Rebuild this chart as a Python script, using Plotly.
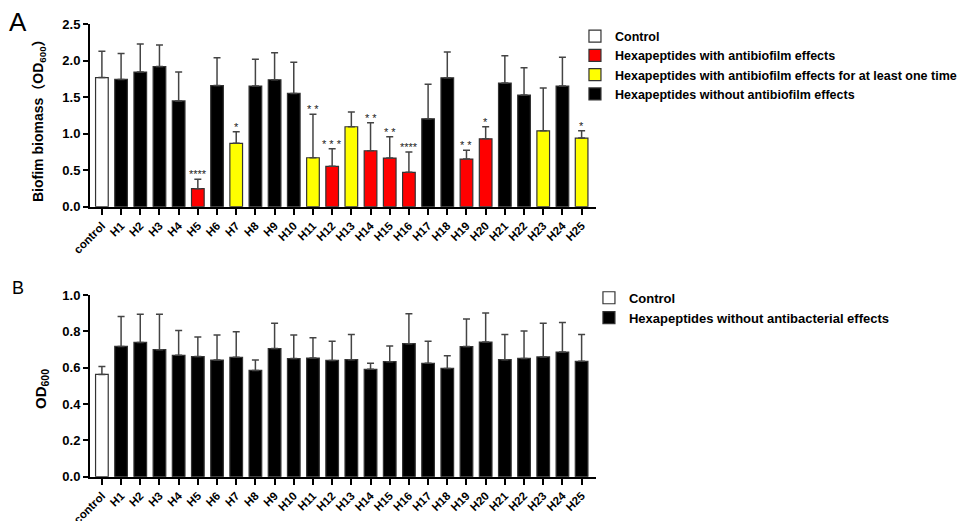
import plotly.graph_objects as go

categories = ["control"] + [f"H{i}" for i in range(1, 26)]

# Panel A: biofilm biomass (OD600) means and upper error limits
biofilm_mean = [1.77, 1.745, 1.845, 1.92, 1.45, 0.247, 1.66, 0.868, 1.653, 1.74, 1.553,
                0.671, 0.553, 1.096, 0.767, 0.667, 0.471, 1.205, 1.767, 0.653, 0.93,
                1.694, 1.53, 1.04, 1.653, 0.941]
biofilm_top = [2.13, 2.10, 2.23, 2.215, 1.845, 0.375, 2.04, 1.027, 2.02, 2.11, 1.98,
               1.266, 0.795, 1.297, 1.151, 0.959, 0.749, 1.68, 2.12, 0.772, 1.096,
               2.07, 1.905, 1.626, 2.05, 1.041]
biofilm_group = ["control", "k", "k", "k", "k", "r", "k", "y", "k", "k", "k",
                 "y", "r", "y", "r", "r", "r", "k", "k", "r", "r",
                 "k", "k", "y", "k", "y"]
biofilm_sig = ["", "", "", "", "", "****", "", "*", "", "", "",
               "* *", "* * *", "", "* *", "* *", "****", "", "", "* *", "*",
               "", "", "", "", "*"]

# Panel B: OD600 means and upper error limits
od_mean = [0.563, 0.717, 0.739, 0.699, 0.668, 0.661, 0.642, 0.657, 0.585, 0.705, 0.650,
           0.653, 0.640, 0.644, 0.591, 0.633, 0.732, 0.624, 0.596, 0.716, 0.741,
           0.644, 0.651, 0.659, 0.686, 0.635]
od_top = [0.606, 0.881, 0.894, 0.894, 0.804, 0.769, 0.780, 0.798, 0.642, 0.844, 0.780,
          0.765, 0.745, 0.783, 0.624, 0.719, 0.897, 0.745, 0.666, 0.868, 0.901,
          0.783, 0.802, 0.844, 0.848, 0.783]
od_group = ["control"] + ["k"] * 25

legend_a = {
    "control": ("Control", "white"),
    "r": ("Hexapeptides with antibiofilm effects", "#FF0000"),
    "y": ("Hexapeptides with antibiofilm effects for at least one time", "#FFFF00"),
    "k": ("Hexapeptides without antibiofilm effects", "black"),
}
legend_b = {
    "control": ("Control", "white"),
    "k": ("Hexapeptides without antibacterial effects", "black"),
}

FONT = "Arial, Liberation Sans, sans-serif"
fig = go.Figure()

def add_bars(mean, top, group, names, xa, ya, legend_id):
    for key in names:
        idx = [i for i, g in enumerate(group) if g == key]
        label, color = names[key]
        fig.add_trace(go.Bar(
            x=[categories[i] for i in idx],
            y=[mean[i] for i in idx],
            error_y=dict(type="data", symmetric=False,
                         array=[top[i] - mean[i] for i in idx],
                         arrayminus=[0] * len(idx),
                         color="#444444", thickness=1.5, width=3.5),
            marker=dict(color=color, line=dict(color="#333333", width=1.2)),
            name=label, xaxis=xa, yaxis=ya, legend=legend_id,
        ))

add_bars(biofilm_mean, biofilm_top, biofilm_group, legend_a, "x", "y", "legend")
add_bars(od_mean, od_top, od_group, legend_b, "x2", "y2", "legend2")

# significance marks above error bars
for i, s in enumerate(biofilm_sig):
    if s:
        fig.add_annotation(x=categories[i], y=biofilm_top[i], xref="x", yref="y",
                           text=s, showarrow=False, yanchor="bottom", yshift=-3,
                           font=dict(family=FONT, size=11, color="#222"))

# page body has an 8px margin: coordinates below are reference px minus 8
W, H = 971, 521
xdom = [82 / W, 588 / W]
ydomA = [1 - 198.7 / H, 1 - 16.3 / H]
ydomB = [1 - 468.7 / H, 1 - 287 / H]

xcommon = dict(type="category", categoryorder="array", categoryarray=categories,
               range=[-0.62, 25.75], showline=True, linecolor="black", linewidth=2,
               ticks="outside", ticklen=6, tickwidth=2, tickcolor="black",
               tickangle=-45, tickfont=dict(family=FONT, size=11.5, color="black", weight="bold"),
               showgrid=False, zeroline=False, automargin=False, domain=xdom)
ycommon = dict(showline=True, linecolor="black", linewidth=2, ticks="outside",
               ticklen=5, tickwidth=2, tickcolor="black",
               tickfont=dict(family=FONT, size=13, color="black", weight="bold"),
               showgrid=False, zeroline=False, automargin=False)

fig.update_layout(
    width=W, height=H, margin=dict(l=0, r=0, t=0, b=0),
    paper_bgcolor="white", plot_bgcolor="white",
    barmode="overlay", bargap=0.34,
    font=dict(family=FONT, color="black"),
    xaxis=dict(**xcommon, anchor="y"),
    xaxis2=dict(**xcommon, anchor="y2"),
    yaxis=dict(**ycommon, domain=ydomA, range=[0, 2.5], dtick=0.5, tickformat=".1f", anchor="x"),
    yaxis2=dict(**ycommon, domain=ydomB, range=[0, 1.0], dtick=0.2, tickformat=".1f", anchor="x2"),
    legend=dict(x=0.5839, y=0.974, xanchor="left", yanchor="top",
                font=dict(family=FONT, size=12.5, color="black", weight="bold"),
                bgcolor="rgba(0,0,0,0)", tracegroupgap=0),
    legend2=dict(x=0.5983, y=0.4726, xanchor="left", yanchor="top",
                 font=dict(family=FONT, size=13, color="black", weight="bold"),
                 bgcolor="rgba(0,0,0,0)", tracegroupgap=0),
    showlegend=True,
)

# axis titles and panel letters
fig.add_annotation(x=31 / W, y=1 - 109 / H, xref="paper", yref="paper",
                   xanchor="center", yanchor="middle",
                   text="Biofim biomass（OD<sub>600</sub>）", textangle=-90, showarrow=False,
                   font=dict(family=FONT + ", Noto Sans CJK SC", size=14, color="black", weight="bold"))
fig.add_annotation(x=33 / W, y=1 - 381 / H, xref="paper", yref="paper",
                   xanchor="center", yanchor="middle",
                   text="OD<sub>600</sub>", textangle=-90, showarrow=False,
                   font=dict(family=FONT, size=15, color="black", weight="bold"))
fig.add_annotation(x=0, y=1, xref="paper", yref="paper", xanchor="left", yanchor="top",
                   xshift=-1, yshift=3,
                   text="A", showarrow=False, font=dict(family=FONT, size=26, color="black"))
fig.add_annotation(x=2 / W, y=1 - 268 / H, xref="paper", yref="paper", xanchor="left", yanchor="top",
                   text="B", showarrow=False, font=dict(family=FONT, size=18, color="black"))

fig.write_html("out.html")
